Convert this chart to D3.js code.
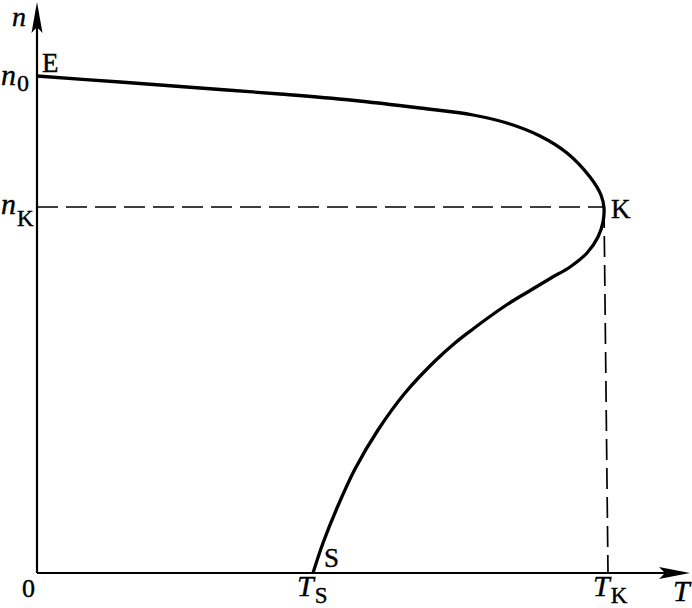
<!DOCTYPE html>
<html><head><meta charset="utf-8">
<script src="https://cdn.jsdelivr.net/npm/d3@7/dist/d3.min.js"></script>
<style>
html,body{margin:0;padding:0;background:#fff;}
svg{display:block;}
text{font-family:'Liberation Serif',Tinos,'Times New Roman',Times,serif;fill:#000;stroke:#000;stroke-width:0.4px;}
</style></head>
<body>
<script>
// Curve E -> K -> S : [T, n] (arbitrary units)
const curveT = [0, 83, 163, 243, 313, 383, 436, 473, 503, 530, 553, 564, 567, 566, 561, 550, 533, 514, 494, 474, 455, 436, 418, 398, 368, 341, 318, 300, 286, 276];
const curveN = [497, 491, 485, 479, 473, 465, 458, 449, 437, 420, 396, 378, 365, 351, 336, 320, 306, 295, 283, 271, 258, 244, 230, 212, 180, 143, 104, 65, 30, 0];
// Characteristic values
const keyT = {TS: 276, TK: 571};
const keyN = {n0: 497, nK: 366};
const pointK = [567, 366];
const axisMax = {T: 653, n: 571};

const W = 692, H = 608;
const x = d3.scaleLinear().domain([0, axisMax.T]).range([37, 690]);
const y = d3.scaleLinear().domain([0, axisMax.n]).range([573, 2]);

const svg = d3.select("body").append("svg").attr("width", W).attr("height", H);

// dashed guides
svg.append("line")
  .attr("x1", x(0)).attr("y1", y(keyN.nK)).attr("x2", x(pointK[0])).attr("y2", y(keyN.nK))
  .attr("stroke", "#000").attr("stroke-width", 1.7).attr("stroke-dasharray", "21,8");
svg.append("line")
  .attr("x1", x(pointK[0])).attr("y1", y(pointK[1])).attr("x2", x(keyT.TK)).attr("y2", y(0))
  .attr("stroke", "#000").attr("stroke-width", 1.7).attr("stroke-dasharray", "21,8");

// axes
svg.append("line").attr("x1", x(0)).attr("y1", y(0)).attr("x2", x(axisMax.T) - 8).attr("y2", y(0))
  .attr("stroke", "#000").attr("stroke-width", 2.2);
svg.append("line").attr("x1", x(0)).attr("y1", y(0)).attr("x2", x(0)).attr("y2", y(axisMax.n) + 8)
  .attr("stroke", "#000").attr("stroke-width", 2.2);

// arrowheads
const xt = x(axisMax.T), yt = y(0);
svg.append("path")
  .attr("d", `M${xt},${yt} L${xt-31},${yt-6} L${xt-25},${yt} L${xt-31},${yt+6} Z`)
  .attr("fill", "#000");
const xa = x(0), ya = y(axisMax.n);
svg.append("path")
  .attr("d", `M${xa},${ya} L${xa-5.5},${ya+31} L${xa},${ya+25} L${xa+5.5},${ya+31} Z`)
  .attr("fill", "#000");

// curve
const pts = curveT.map((t, i) => [t, curveN[i]]);
const line = d3.line().x(d => x(d[0])).y(d => y(d[1])).curve(d3.curveCatmullRom.alpha(0.5));
svg.append("path").datum(pts).attr("d", line)
  .attr("fill", "none").attr("stroke", "#000").attr("stroke-width", 3.3)
  .attr("stroke-linejoin", "round").attr("stroke-linecap", "butt");

// labels
function lab(px, py, txt, size, opts = {}) {
  const t = svg.append("text").attr("x", px).attr("y", py)
    .attr("font-size", size).attr("text-anchor", opts.anchor || "start");
  if (opts.italic) t.attr("font-style", "italic");
  t.text(txt);
  return t;
}
function sublab(px, py, main, sub, size, subsize, dy) {
  const t = svg.append("text").attr("x", px).attr("y", py).attr("font-size", size);
  t.append("tspan").attr("font-style", "italic").text(main);
  t.append("tspan").attr("font-size", subsize).attr("dy", dy).attr("dx", 1).text(sub);
  return t;
}

lab(x(0) - 25, 26, "n", 28, {italic: true});
sublab(1, y(keyN.n0) + 9, "n", "0", 30, 24, 6);
sublab(1, y(keyN.nK) + 7, "n", "K", 30, 23, 12);
lab(x(0) + 5, y(keyN.n0) - 4, "E", 27);
lab(x(pointK[0]) + 7, y(pointK[1]) + 11, "K", 27);
lab(x(keyT.TS) + 11, y(0) - 6, "S", 27);
lab(x(0) - 15, y(0) + 24, "0", 26);
sublab(x(keyT.TS) - 16, y(0) + 23, "T", "S", 30, 23, 7);
sublab(x(keyT.TK) - 15, y(0) + 23, "T", "K", 30, 23, 7);
lab(x(axisMax.T) - 17, y(0) + 28, "T", 30, {italic: true});
</script>
</body></html>
